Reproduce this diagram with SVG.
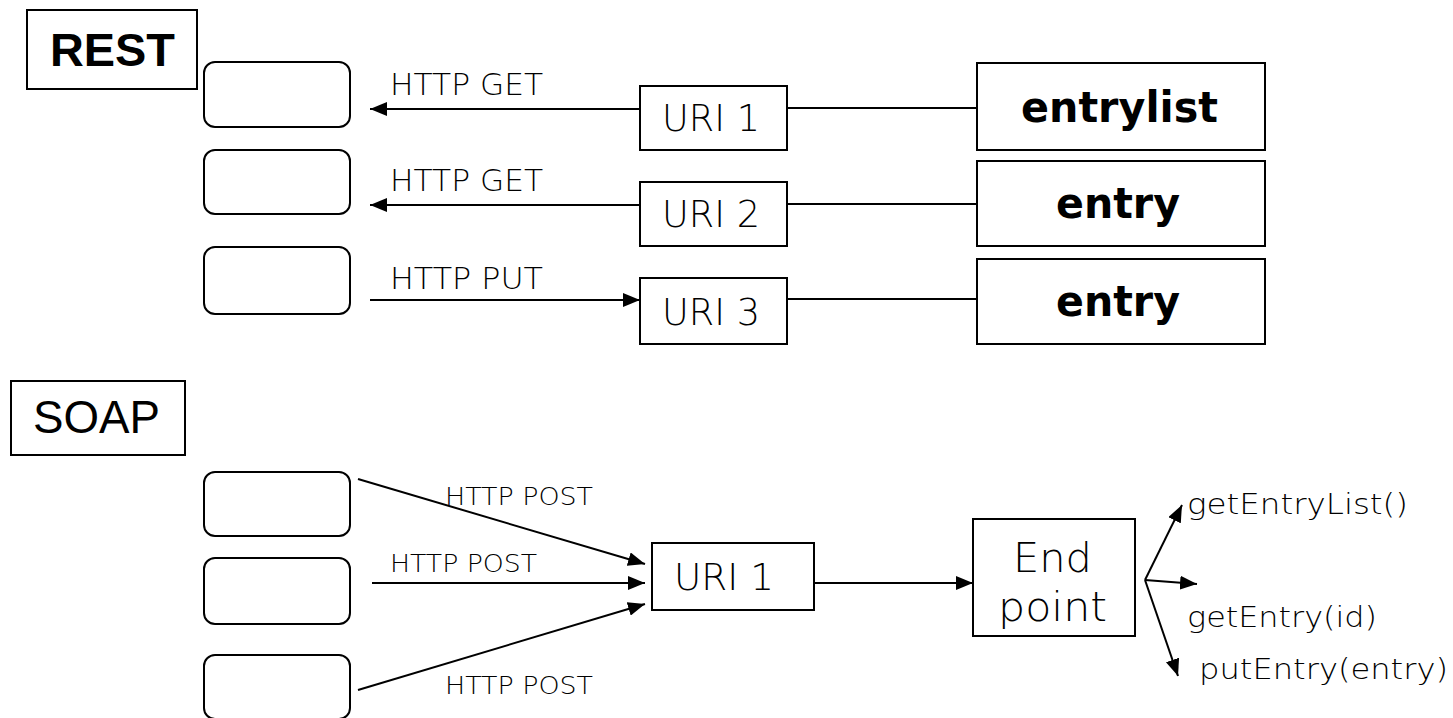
<svg xmlns="http://www.w3.org/2000/svg" width="1453" height="718" viewBox="0 0 1453 718">
<style>
.box{fill:#fff;stroke:#000;stroke-width:2}
.rb{fill:#fff;stroke:#000;stroke-width:2}
.ln{stroke:#000;stroke-width:2;fill:none}
text{font-family:"DejaVu Sans","Liberation Sans",sans-serif;fill:#000}
.thin{font-weight:200}
.lbl{font-size:30px}
.sm{font-size:24px}
.uri{font-size:37px}
.big{font-size:42px;font-weight:bold}
.ep{font-size:41px}
.fn{font-size:28px}
.ttl{font-family:"Liberation Sans",Arial,sans-serif;font-size:46px}
</style>
<defs>
<marker id="ah2" viewBox="0 0 10 10" refX="10" refY="5" markerWidth="17" markerHeight="14" markerUnits="userSpaceOnUse" orient="auto" preserveAspectRatio="none">
<path d="M0,0 L10,5 L0,10 z" fill="#000"/>
</marker>
</defs>
<rect width="1453" height="718" fill="#fff"/>

<g id="connectors">
<line class="ln" x1="640" y1="109" x2="370" y2="109" marker-end="url(#ah2)"/>
<line class="ln" x1="640" y1="205" x2="370" y2="205" marker-end="url(#ah2)"/>
<line class="ln" x1="370" y1="300" x2="640" y2="300" marker-end="url(#ah2)"/>
<line class="ln" x1="787" y1="108" x2="977" y2="108"/>
<line class="ln" x1="787" y1="204" x2="977" y2="204"/>
<line class="ln" x1="787" y1="299" x2="977" y2="299"/>
<line class="ln" x1="358" y1="479" x2="645" y2="564" marker-end="url(#ah2)"/>
<line class="ln" x1="372" y1="583" x2="645" y2="583" marker-end="url(#ah2)"/>
<line class="ln" x1="358" y1="690" x2="645" y2="604" marker-end="url(#ah2)"/>
<line class="ln" x1="814" y1="583" x2="973" y2="583" marker-end="url(#ah2)"/>
<line class="ln" x1="1145" y1="580" x2="1182" y2="505" marker-end="url(#ah2)"/>
<line class="ln" x1="1145" y1="580" x2="1197" y2="584" marker-end="url(#ah2)"/>
<line class="ln" x1="1145" y1="580" x2="1178" y2="676" marker-end="url(#ah2)"/>
<text class="lbl thin" x="390" y="95" textLength="153" lengthAdjust="spacingAndGlyphs">HTTP GET</text>
<text class="lbl thin" x="390" y="191" textLength="153" lengthAdjust="spacingAndGlyphs">HTTP GET</text>
<text class="lbl thin" x="390" y="289" textLength="153" lengthAdjust="spacingAndGlyphs">HTTP PUT</text>
<text class="sm thin" x="445" y="505" textLength="148" lengthAdjust="spacingAndGlyphs">HTTP POST</text>
<text class="sm thin" x="390" y="572" textLength="147" lengthAdjust="spacingAndGlyphs">HTTP POST</text>
<text class="sm thin" x="445" y="694" textLength="148" lengthAdjust="spacingAndGlyphs">HTTP POST</text>
</g>

<g id="rest-title">
<rect class="box" x="27" y="10" width="170" height="79"/>
<text class="ttl" x="50" y="66" font-weight="bold" textLength="125" lengthAdjust="spacingAndGlyphs">REST</text>
</g>
<g id="client1"><rect class="rb" x="204" y="62" width="146" height="65" rx="11"/></g>
<g id="client2"><rect class="rb" x="204" y="150" width="146" height="64" rx="11"/></g>
<g id="client3"><rect class="rb" x="204" y="247" width="146" height="67" rx="11"/></g>
<g id="uri1"><rect class="box" x="640" y="86" width="147" height="64"/><text class="uri thin" x="662" y="131" textLength="98" lengthAdjust="spacingAndGlyphs">URI 1</text></g>
<g id="uri2"><rect class="box" x="640" y="182" width="147" height="64"/><text class="uri thin" x="662" y="227" textLength="98" lengthAdjust="spacingAndGlyphs">URI 2</text></g>
<g id="uri3"><rect class="box" x="640" y="278" width="147" height="66"/><text class="uri thin" x="662" y="325" textLength="98" lengthAdjust="spacingAndGlyphs">URI 3</text></g>
<g id="entrylist"><rect class="box" x="977" y="63" width="288" height="87"/><text class="big" x="1021" y="122" textLength="197" lengthAdjust="spacingAndGlyphs">entrylist</text></g>
<g id="entry1"><rect class="box" x="977" y="161" width="288" height="85"/><text class="big" x="1056" y="218" textLength="124" lengthAdjust="spacingAndGlyphs">entry</text></g>
<g id="entry2"><rect class="box" x="977" y="259" width="288" height="85"/><text class="big" x="1056" y="316" textLength="124" lengthAdjust="spacingAndGlyphs">entry</text></g>

<g id="soap-title">
<rect class="box" x="11" y="381" width="174" height="74"/>
<text class="ttl" x="33" y="433" textLength="127" lengthAdjust="spacingAndGlyphs">SOAP</text>
</g>
<g id="sclient1"><rect class="rb" x="204" y="472" width="146" height="64" rx="11"/></g>
<g id="sclient2"><rect class="rb" x="204" y="558" width="146" height="66" rx="11"/></g>
<g id="sclient3"><rect class="rb" x="204" y="655" width="146" height="64" rx="11"/></g>
<g id="suri1"><rect class="box" x="652" y="543" width="162" height="67"/><text class="uri thin" x="674" y="590" textLength="100" lengthAdjust="spacingAndGlyphs">URI 1</text></g>
<g id="endpoint"><rect class="box" x="973" y="519" width="162" height="117"/>
<text class="ep thin" x="1013" y="572" textLength="79" lengthAdjust="spacingAndGlyphs">End</text>
<text class="ep thin" x="998" y="621" textLength="109" lengthAdjust="spacingAndGlyphs">point</text></g>
<g id="methods">
<text class="fn thin" x="1187" y="514" textLength="221" lengthAdjust="spacingAndGlyphs">getEntryList()</text>
<text class="fn thin" x="1187" y="627" textLength="190" lengthAdjust="spacingAndGlyphs">getEntry(id)</text>
<text class="fn thin" x="1199" y="679" textLength="249" lengthAdjust="spacingAndGlyphs">putEntry(entry)</text>
</g>
</svg>
